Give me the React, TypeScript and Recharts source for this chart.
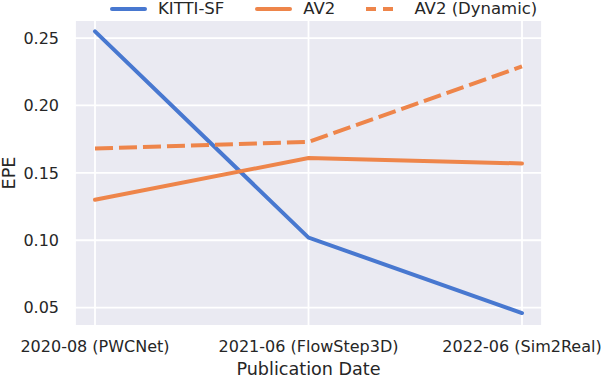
import React from "react";
import { LineChart, Line, XAxis, YAxis, CartesianGrid, Legend, Label } from "recharts";

const categories = ["2020-08 (PWCNet)", "2021-06 (FlowStep3D)", "2022-06 (Sim2Real)"];
const kittiSF = [0.255, 0.102, 0.046];
const av2 = [0.130, 0.161, 0.157];
const av2Dynamic = [0.168, 0.173, 0.229];
const yTicks = [0.05, 0.1, 0.15, 0.2, 0.25];

const data = categories.map((c, i) => ({
  name: c,
  kitti: kittiSF[i],
  av2: av2[i],
  av2dyn: av2Dynamic[i],
}));

const BLUE = "#4878D0";
const ORANGE = "#EE854A";
const TEXT = "#262626";
const FONT = "'DejaVu Sans', sans-serif";

const legendItems = [
  { label: "KITTI-SF", color: BLUE, dash: undefined as string | undefined },
  { label: "AV2", color: ORANGE, dash: undefined as string | undefined },
  { label: "AV2 (Dynamic)", color: ORANGE, dash: "10 7 10 100" },
];

const renderLegend = () => (
  <div style={{ display: "flex", alignItems: "center", fontFamily: FONT, fontSize: 16.5, color: TEXT, whiteSpace: "nowrap", lineHeight: "18px" }}>
    {legendItems.map((it, i) => (
      <div key={i} style={{ display: "flex", alignItems: "center", marginRight: i < 2 ? 31 : 0 }}>
        <svg width={37} height={10} style={{ marginRight: 11 }}>
          <line x1={it.dash ? 0 : 2} y1={5} x2={it.dash ? 37 : 35} y2={5} stroke={it.color} strokeWidth={4}
            strokeDasharray={it.dash} strokeLinecap={it.dash ? "butt" : "round"} />
        </svg>
        <span>{it.label}</span>
      </div>
    ))}
  </div>
);

export default function App() {
  return (
    <div style={{ width: 602, height: 378, position: "relative" }}>
      <style>{`body{margin:0;}`}</style>
      <LineChart width={602} height={378} data={data} margin={{ top: 20, right: 60, bottom: 0, left: 0 }}>
        <CartesianGrid fill="#EAEAF2" stroke="#FFFFFF" strokeWidth={1.8} />
        <XAxis dataKey="name" axisLine={false} tickLine={false} tickSize={0} tickMargin={14.5} height={52}
          padding={{ left: 20, right: 20 }} interval={0}
          tick={{ fill: TEXT, fontSize: 16, fontFamily: FONT }}>
          <Label value="Publication Date" position="insideBottom" offset={3}
            style={{ fill: TEXT, fontSize: 17.6, fontFamily: FONT }} />
        </XAxis>
        <YAxis type="number" domain={[0.0364, 0.2634]} ticks={yTicks} axisLine={false} tickLine={false} tickSize={0}
          tickMargin={16} width={75} allowDataOverflow
          tickFormatter={(v: number) => v.toFixed(2)}
          tick={{ fill: TEXT, fontSize: 16, fontFamily: FONT }}>
          <Label content={(props: any) => {
            const vb = props.viewBox;
            const cx = vb.x + 8.5;
            const cy = vb.y + vb.height / 2;
            return (
              <text x={cx} y={cy} transform={`rotate(-90 ${cx} ${cy})`} textAnchor="middle" dominantBaseline="central"
                fill={TEXT} fontSize={17.6} fontFamily={FONT}>EPE</text>
            );
          }} />
        </YAxis>
        <Legend layout="horizontal" verticalAlign="middle" align="center" content={renderLegend}
          wrapperStyle={{ top: 0, left: 110, width: "auto" }} />
        <Line dataKey="kitti" name="KITTI-SF" stroke={BLUE} strokeWidth={4} dot={false} strokeLinecap="round"
          isAnimationActive={false} />
        <Line dataKey="av2" name="AV2" stroke={ORANGE} strokeWidth={4} dot={false} strokeLinecap="round"
          isAnimationActive={false} />
        <Line dataKey="av2dyn" name="AV2 (Dynamic)" stroke={ORANGE} strokeWidth={4} dot={false}
          strokeDasharray="18 6" isAnimationActive={false} />
      </LineChart>
    </div>
  );
}
